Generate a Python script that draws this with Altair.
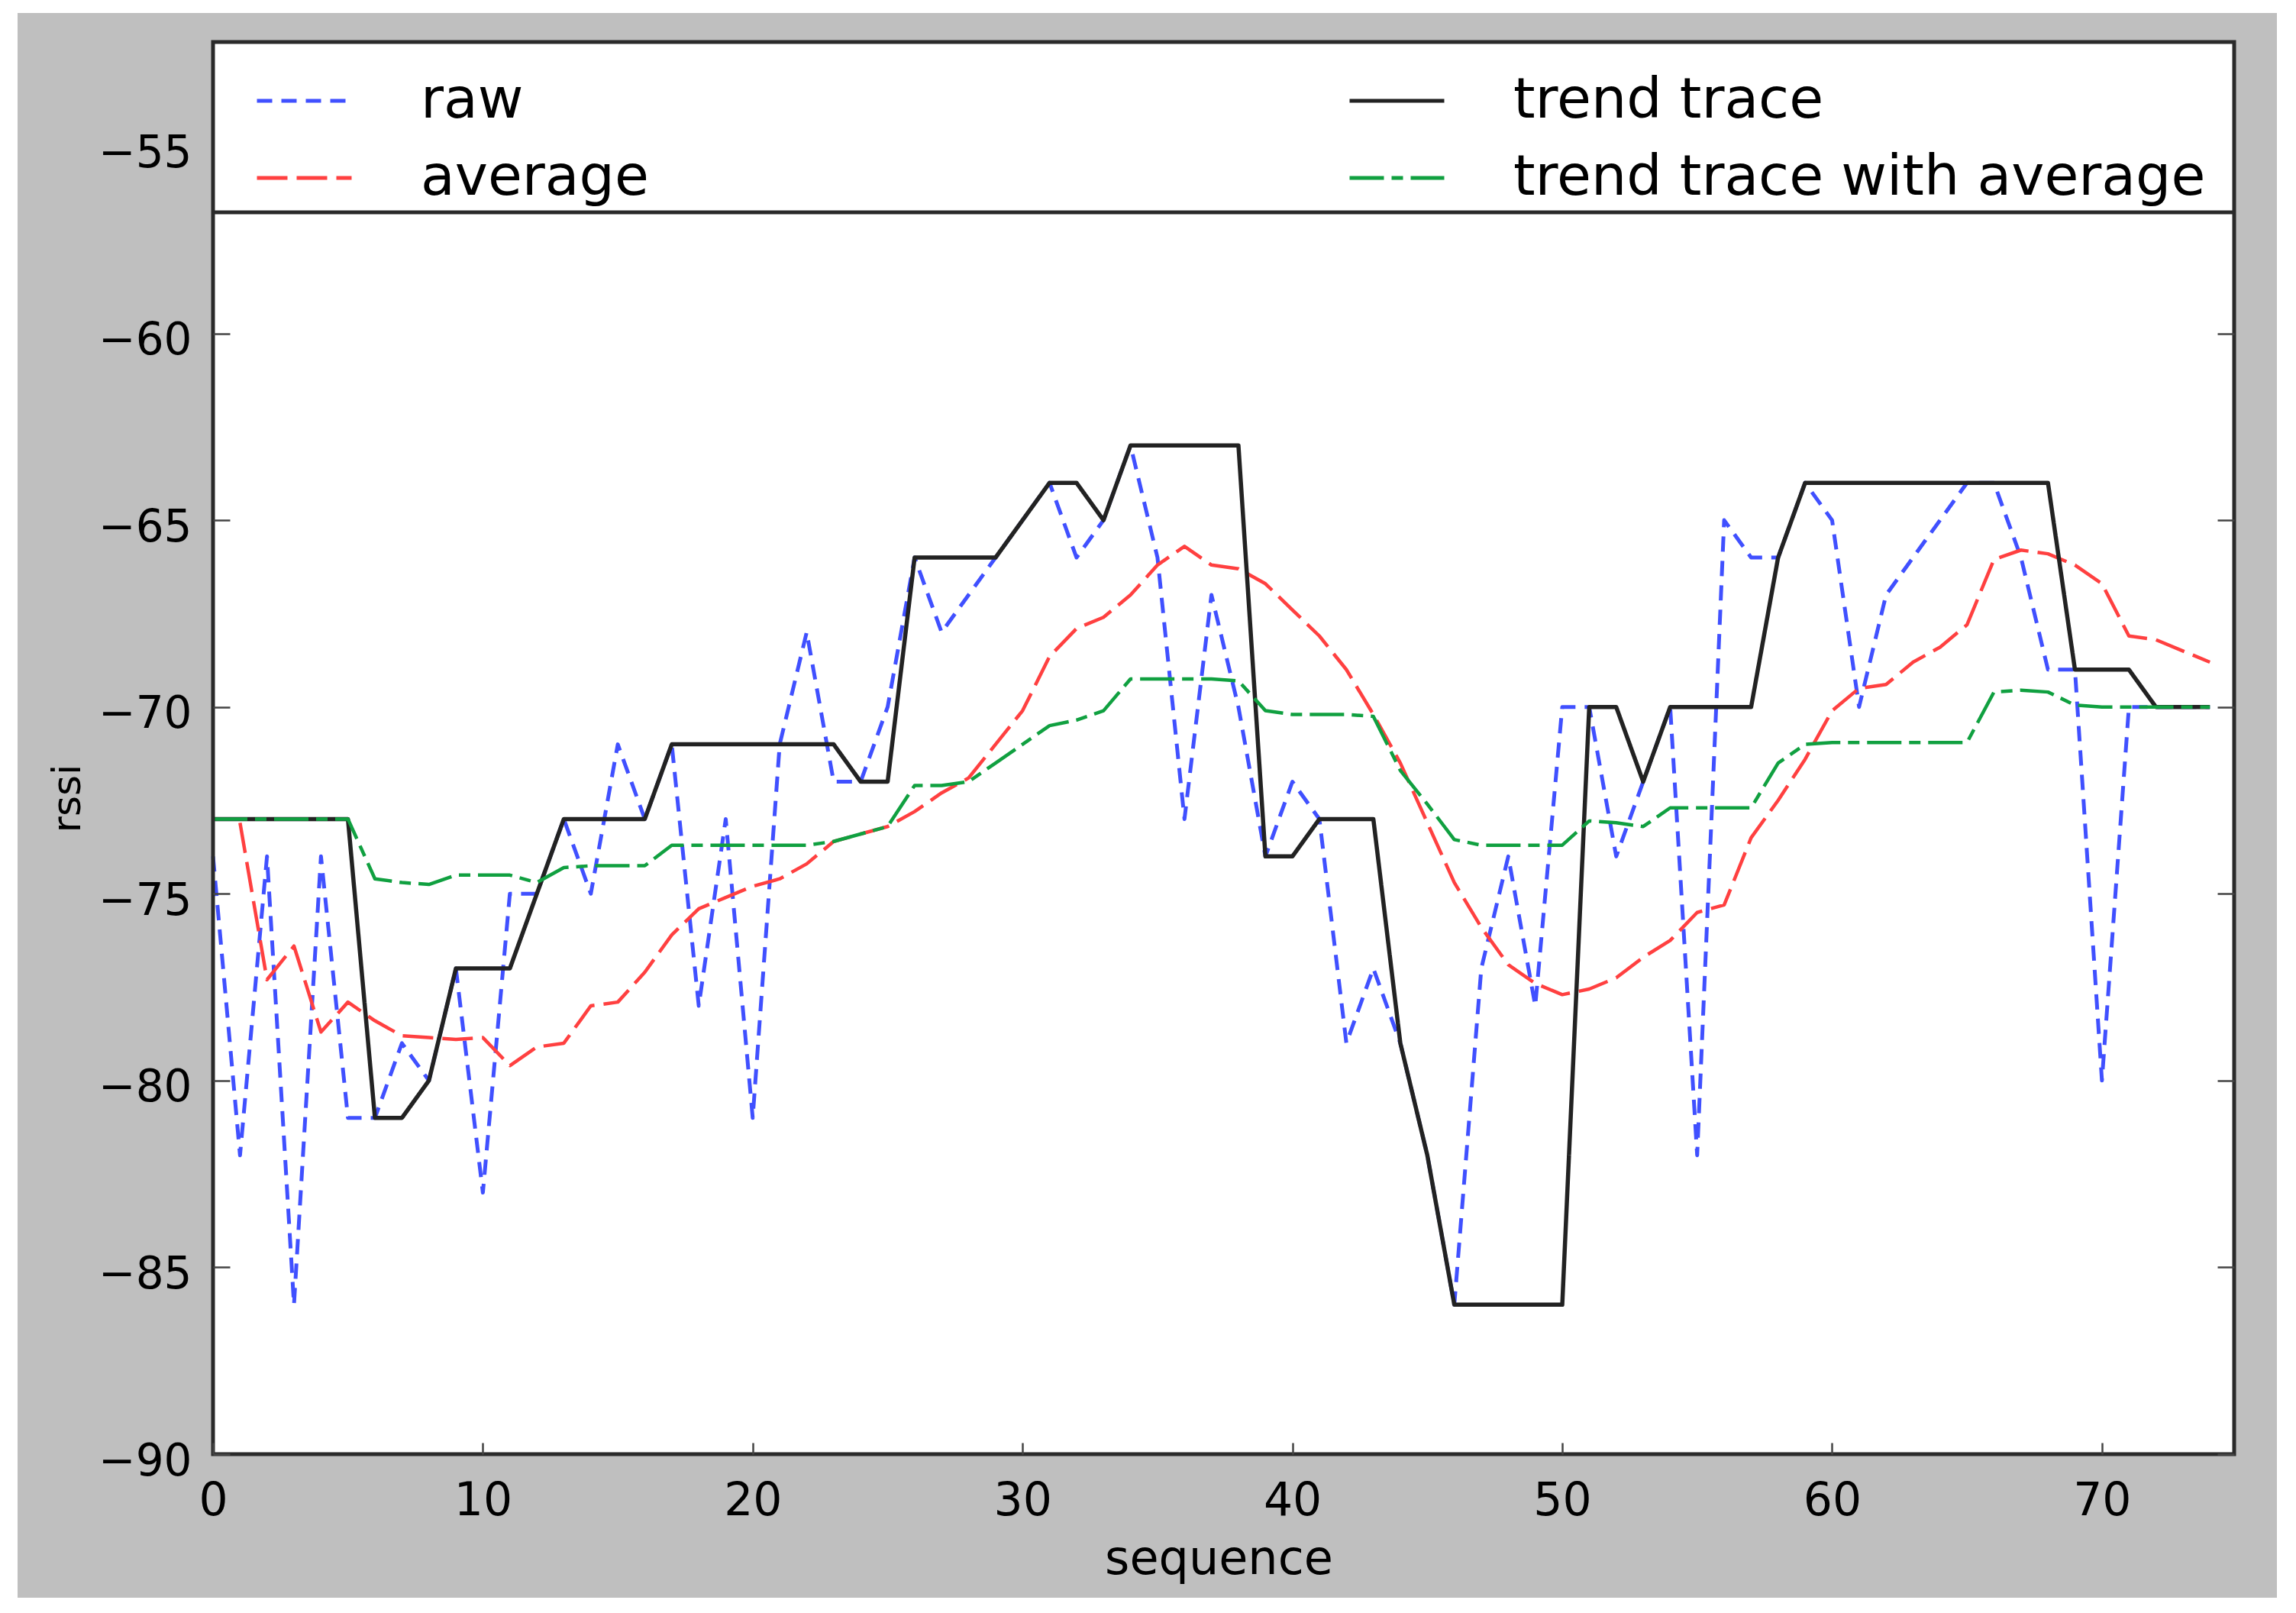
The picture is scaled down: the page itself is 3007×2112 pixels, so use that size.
import altair as alt
import pandas as pd

# ---------------- data ----------------
seq = list(range(0, 75))
raw = [-74, -82, -74, -86, -74, -81, -81, -79, -80, -77,
       -83, -75, -75, -73, -75, -71, -73, -71, -78, -73,
       -81, -71, -68, -72, -72, -70, -66, -68, -67, -66,
       -65, -64, -66, -65, -63, -66, -73, -67, -70, -74,
       -72, -73, -79, -77, -79, -82, -86, -77, -74, -78,
       -70, -70, -74, -72, -70, -82, -65, -66, -66, -64,
       -65, -70, -67, -66, -65, -64, -64, -66, -69, -69,
       -80, -70, -70, -70, -70]
trend = [-73, -73, -73, -73, -73, -73, -81, -81, -80, -77,
         -77, -77, -75, -73, -73, -73, -73, -71, -71, -71,
         -71, -71, -71, -71, -72, -72, -66, -66, -66, -66,
         -65, -64, -64, -65, -63, -63, -63, -63, -63, -74,
         -74, -73, -73, -73, -79, -82, -86, -86, -86, -86,
         -86, -70, -70, -72, -70, -70, -70, -70, -66, -64,
         -64, -64, -64, -64, -64, -64, -64, -64, -64, -69,
         -69, -69, -70, -70, -70]
avg_seq = list(range(1, 75))
average = [-73.1, -77.3, -76.4, -78.7, -77.9, -78.4, -78.8, -78.85, -78.9, -78.85,
           -79.6, -79.1, -79.0, -78.0, -77.9, -77.1, -76.1, -75.4, -75.1, -74.8,
           -74.6, -74.2, -73.6, -73.4, -73.2, -72.8, -72.3, -71.9, -71.0, -70.1,
           -68.65, -67.9, -67.6, -67.0, -66.2, -65.7, -66.2, -66.3, -66.7, -67.4,
           -68.1, -69.0, -70.2, -71.5, -73.1, -74.7, -75.9, -76.9, -77.4, -77.7,
           -77.55, -77.25, -76.7, -76.25, -75.5, -75.3, -73.5, -72.5, -71.4, -70.1,
           -69.5, -69.4, -68.8, -68.4, -67.8, -66.05, -65.8, -65.9, -66.2, -66.7,
           -68.1, -68.2, -68.5, -68.8]
trend_avg = [-73, -73, -73, -73, -73, -73, -74.6, -74.7, -74.75, -74.5,
             -74.5, -74.5, -74.7, -74.3, -74.25, -74.25, -74.25, -73.7, -73.7, -73.7,
             -73.7, -73.7, -73.7, -73.6, -73.4, -73.2, -72.1, -72.1, -72.0, -71.5,
             -71.0, -70.5, -70.35, -70.1, -69.25, -69.25, -69.25, -69.25, -69.3, -70.1,
             -70.2, -70.2, -70.2, -70.25, -71.7, -72.6, -73.55, -73.7, -73.7, -73.7,
             -73.7, -73.05, -73.1, -73.2, -72.7, -72.7, -72.7, -72.7, -71.5, -71.0,
             -70.95, -70.95, -70.95, -70.95, -70.95, -70.95, -69.6, -69.55, -69.6, -69.95,
             -70, -70, -70, -70, -70]

series_names = ["raw", "average", "trend trace", "trend trace with average"]
series_colors = ["#4050ff", "#ff4040", "#222222", "#10a040"]
series_dashes = [[20, 12], [40, 12], [1, 0], [45, 10, 15, 10]]
x_ticks = [0, 10, 20, 30, 40, 50, 60, 70]
y_ticks = [-90, -85, -80, -75, -70, -65, -60, -55]
y_ticks_right = [-90, -85, -80, -75, -70, -65, -60]

rows = []
for name, xs, ys in [("raw", seq, raw), ("average", avg_seq, average),
                     ("trend trace", seq, trend), ("trend trace with average", seq, trend_avg)]:
    for a, b in zip(xs, ys):
        rows.append({"series": name, "x": a, "y": b})
df = pd.DataFrame(rows)

W, H = 2647, 1849
FONT = "DejaVu Sans"

x_enc = alt.X("x:Q",
              scale=alt.Scale(domain=[0, 74.9], nice=False, zero=False),
              axis=alt.Axis(values=x_ticks, title="sequence", grid=False, domain=False,
                            offset=-15, tickSize=15, tickColor="#444", tickWidth=2.5,
                            labelPadding=32, labelFontSize=60, labelFont=FONT,
                            labelColor="#000", labelFlush=False, labelOverlap=False,
                            titleFont=FONT, titleFontSize=62, titleFontWeight="normal",
                            titleColor="#000", titleX=1317, titleY=171,
                            titleAlign="center", titleBaseline="alphabetic", zindex=1))

y_scale = alt.Scale(domain=[-90, -52.2], nice=False, zero=False)
y_left = alt.Y("y:Q", scale=y_scale,
               axis=alt.Axis(values=y_ticks, orient="left", title="rssi", grid=False,
                             domain=False, offset=-22, tickSize=22, tickColor="#444",
                             tickWidth=2.5,
                             tickOpacity={"condition": {"test": "datum.value == -55", "value": 0}, "value": 1},
                             labelPadding=28, labelFontSize=58, labelFont=FONT,
                             labelColor="#000", labelOffset=10, labelOverlap=False,
                             titleFont=FONT, titleFontSize=52, titleFontWeight="normal",
                             titleColor="#000", titleX=-213, titleY=990,
                             titleAlign="center", titleBaseline="middle", zindex=1))
y_right = alt.Y("y:Q", scale=y_scale,
                axis=alt.Axis(values=y_ticks_right, orient="right", title=None, grid=False,
                              domain=False, labels=False, offset=-22, tickSize=22,
                              tickColor="#444", tickWidth=2.5, zindex=1))
y_none = alt.Y("y:Q", scale=y_scale, axis=None)

legend = alt.Legend(orient="none", legendX=55, legendY=32, columns=2, columnPadding=915,
                    rowPadding=11, clipHeight=90, symbolType="stroke", symbolSize=15376,
                    symbolStrokeWidth=5, labelFont=FONT, labelFontSize=73, labelOffset=88,
                    labelColor="#000", labelLimit=0, title=None, padding=0)
color_enc = alt.Color("series:N", scale=alt.Scale(domain=series_names, range=series_colors),
                      legend=legend)
dash_enc = alt.StrokeDash("series:N", scale=alt.Scale(domain=series_names, range=series_dashes),
                          legend=legend)

one = pd.DataFrame({"k": [0]})

frame_bg = alt.Chart(one).mark_rect(color="#bfbfbf").encode(
    x=alt.value(-256), x2=alt.value(2703), y=alt.value(-38), y2=alt.value(2037))
plot_bg = alt.Chart(one).mark_rect(color="#ffffff").encode(
    x=alt.value(0), x2=alt.value(W), y=alt.value(0), y2=alt.value(H))


def line_layer(name, width, y_enc):
    return alt.Chart(df).transform_filter(alt.datum.series == name).mark_line(
        strokeWidth=width, strokeJoin="round").encode(
        x=x_enc, y=y_enc, color=color_enc, strokeDash=dash_enc)


raw_l = line_layer("raw", 5, y_left)
avg_l = line_layer("average", 4.5, y_none)
trend_l = line_layer("trend trace", 5.5, y_right)
tavg_l = line_layer("trend trace with average", 4.5, y_none)

legend_rule = alt.Chart(one).mark_rule(color="#2a2a2a", strokeWidth=5).encode(
    x=alt.value(0), x2=alt.value(W), y=alt.value(223))
frame = alt.Chart(one).mark_rect(fillOpacity=0, stroke="#2a2a2a", strokeWidth=5).encode(
    x=alt.value(0), x2=alt.value(W), y=alt.value(0), y2=alt.value(H))

chart = alt.layer(frame_bg, plot_bg, raw_l, avg_l, trend_l, tavg_l, legend_rule, frame).resolve_axis(
    y="independent").properties(
    width=W, height=H, autosize="none",
    padding={"left": 271, "top": 47, "right": 73, "bottom": 200},
    background="#ffffff").configure_view(stroke=None, fill="#ffffff")

chart.save("out.html", embed_options={"renderer": "svg", "actions": False})
